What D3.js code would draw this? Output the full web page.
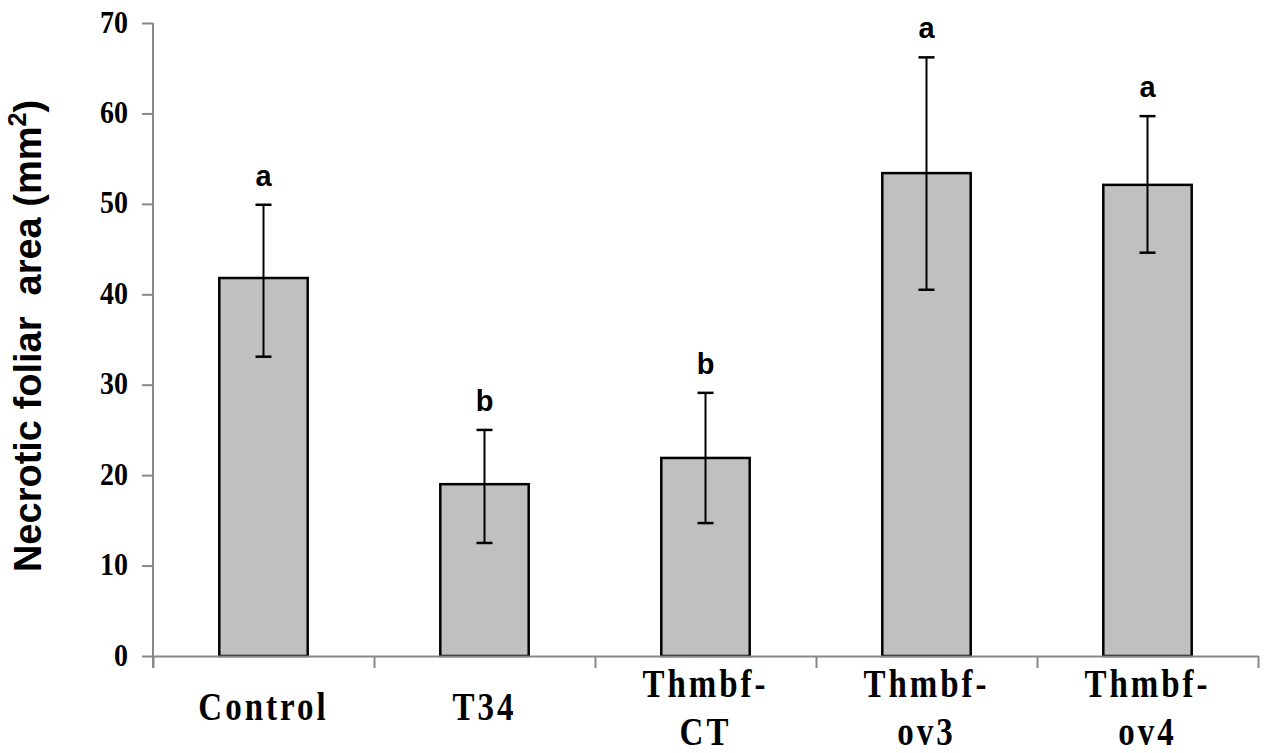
<!DOCTYPE html>
<html>
<head>
<meta charset="utf-8">
<script src="https://cdn.jsdelivr.net/npm/d3@7"></script>
<style>
  body { margin: 0; background: #fff; }
</style>
</head>
<body>
<div id="chart"></div>
<script>
// values
let groups = ["Control", "T34", "Thmbf-CT", "Thmbf-ov3", "Thmbf-ov4"]
let labelLines = [["Control"], ["T34"], ["Thmbf-", "CT"], ["Thmbf-", "ov3"], ["Thmbf-", "ov4"]]
let means = [41.8, 19.0, 21.9, 53.4, 52.1]
let errLow = [33.1, 12.5, 14.7, 40.5, 44.6]
let errHigh = [49.9, 25.0, 29.1, 66.2, 59.7]
let letters = ["a", "b", "b", "a", "a"]
let yTicks = [0, 10, 20, 30, 40, 50, 60, 70]

let width = 1267
let height = 753
let plotLeft = 153, plotRight = 1258, plotTop = 23, plotBottom = 656

let chart = d3.select("#chart").append("svg")
    .attr("width", width).attr("height", height)

let xscale = d3.scaleBand()
    .domain(groups)
    .range([plotLeft, plotRight])

let yscale = d3.scaleLinear()
    .domain([0, 70])
    .range([plotBottom, plotTop])

let edgeScale = d3.scaleLinear()
    .domain([0, groups.length])
    .range([plotLeft, plotRight])

let barW = xscale.bandwidth() * 0.4

// bars
chart.selectAll("rect.bar").data(groups).enter().append("rect")
    .attr("class", "bar")
    .attr("x", d => xscale(d) + (xscale.bandwidth() - barW) / 2)
    .attr("y", (d, i) => yscale(means[i]))
    .attr("width", barW)
    .attr("height", (d, i) => yscale(0) - yscale(means[i]))
    .style("fill", "#c0c0c0")
    .style("stroke", "#000")
    .style("stroke-width", 2.5)

// error bars
let cx = d => xscale(d) + xscale.bandwidth() / 2
chart.selectAll("line.err").data(groups).enter().append("line")
    .attr("class", "err")
    .attr("x1", cx).attr("x2", cx)
    .attr("y1", (d, i) => yscale(errLow[i]))
    .attr("y2", (d, i) => yscale(errHigh[i]))
    .style("stroke", "#000").style("stroke-width", 2)

chart.selectAll("line.capTop").data(groups).enter().append("line")
    .attr("class", "capTop")
    .attr("x1", d => cx(d) - 8).attr("x2", d => cx(d) + 8)
    .attr("y1", (d, i) => yscale(errHigh[i]))
    .attr("y2", (d, i) => yscale(errHigh[i]))
    .style("stroke", "#000").style("stroke-width", 2.5)

chart.selectAll("line.capBot").data(groups).enter().append("line")
    .attr("class", "capBot")
    .attr("x1", d => cx(d) - 8).attr("x2", d => cx(d) + 8)
    .attr("y1", (d, i) => yscale(errLow[i]))
    .attr("y2", (d, i) => yscale(errLow[i]))
    .style("stroke", "#000").style("stroke-width", 2.5)

// significance letters
chart.selectAll("text.sig").data(groups).enter().append("text")
    .attr("class", "sig")
    .attr("x", cx)
    .attr("y", (d, i) => yscale(errHigh[i]) - 19)
    .style("text-anchor", "middle")
    .style("font-family", "'Liberation Sans', Arial, sans-serif")
    .style("font-weight", "bold")
    .style("font-size", "29px")
    .text((d, i) => letters[i])

// y axis
let yAxis = chart.append("g")
    .attr("transform", "translate(" + plotLeft + ",0)")
    .call(d3.axisLeft(yscale).tickValues(yTicks).tickSize(11).tickPadding(14).tickSizeOuter(0))
yAxis.select(".domain").attr("d", "M0," + plotTop + "V" + (plotBottom + 12))
yAxis.selectAll("path, line").style("stroke", "#888").style("stroke-width", 2)
yAxis.selectAll(".tick text")
    .attr("transform", "scale(1,1.12)")
    .attr("y", 0)
    .attr("dy", "0.29em")
    .style("font-family", "'Liberation Serif', 'Times New Roman', serif")
    .style("font-weight", "bold")
    .style("font-size", "28px")
    .style("fill", "#000")

// x axis with ticks on category edges
let xAxis = chart.append("g")
    .attr("transform", "translate(0," + plotBottom + ")")
    .call(d3.axisBottom(edgeScale).tickValues(d3.range(groups.length + 1)).tickSize(12).tickSizeOuter(0).tickFormat(""))
xAxis.selectAll("path, line").style("stroke", "#888").style("stroke-width", 2)

// category labels, slightly stretched like the original
groups.forEach((d, i) => {
    let lines = labelLines[i]
    lines.forEach((s, k) => {
        let y = lines.length == 1 ? 720 : 697 + k * 48
        chart.append("text")
            .attr("transform", "translate(" + cx(d) + "," + y + ") scale(1,1.2)")
            .style("text-anchor", "middle")
            .style("font-family", "'Liberation Serif', 'Times New Roman', serif")
            .style("font-weight", "bold")
            .style("font-size", "33px")
            .style("letter-spacing", "3px")
            .text(s)
    })
})

// y axis title
let title = chart.append("text")
    .attr("transform", "translate(41," + 336 + ") rotate(-90)")
    .style("text-anchor", "middle")
    .style("white-space", "pre")
    .style("font-family", "'Liberation Sans', Arial, sans-serif")
    .style("font-weight", "bold")
    .style("font-size", "38px")
title.append("tspan").text("Necrotic foliar  area (mm")
title.append("tspan").attr("dy", -15).style("font-size", "25px").text("2")
title.append("tspan").attr("dy", 15).text(")")
</script>
</body>
</html>
